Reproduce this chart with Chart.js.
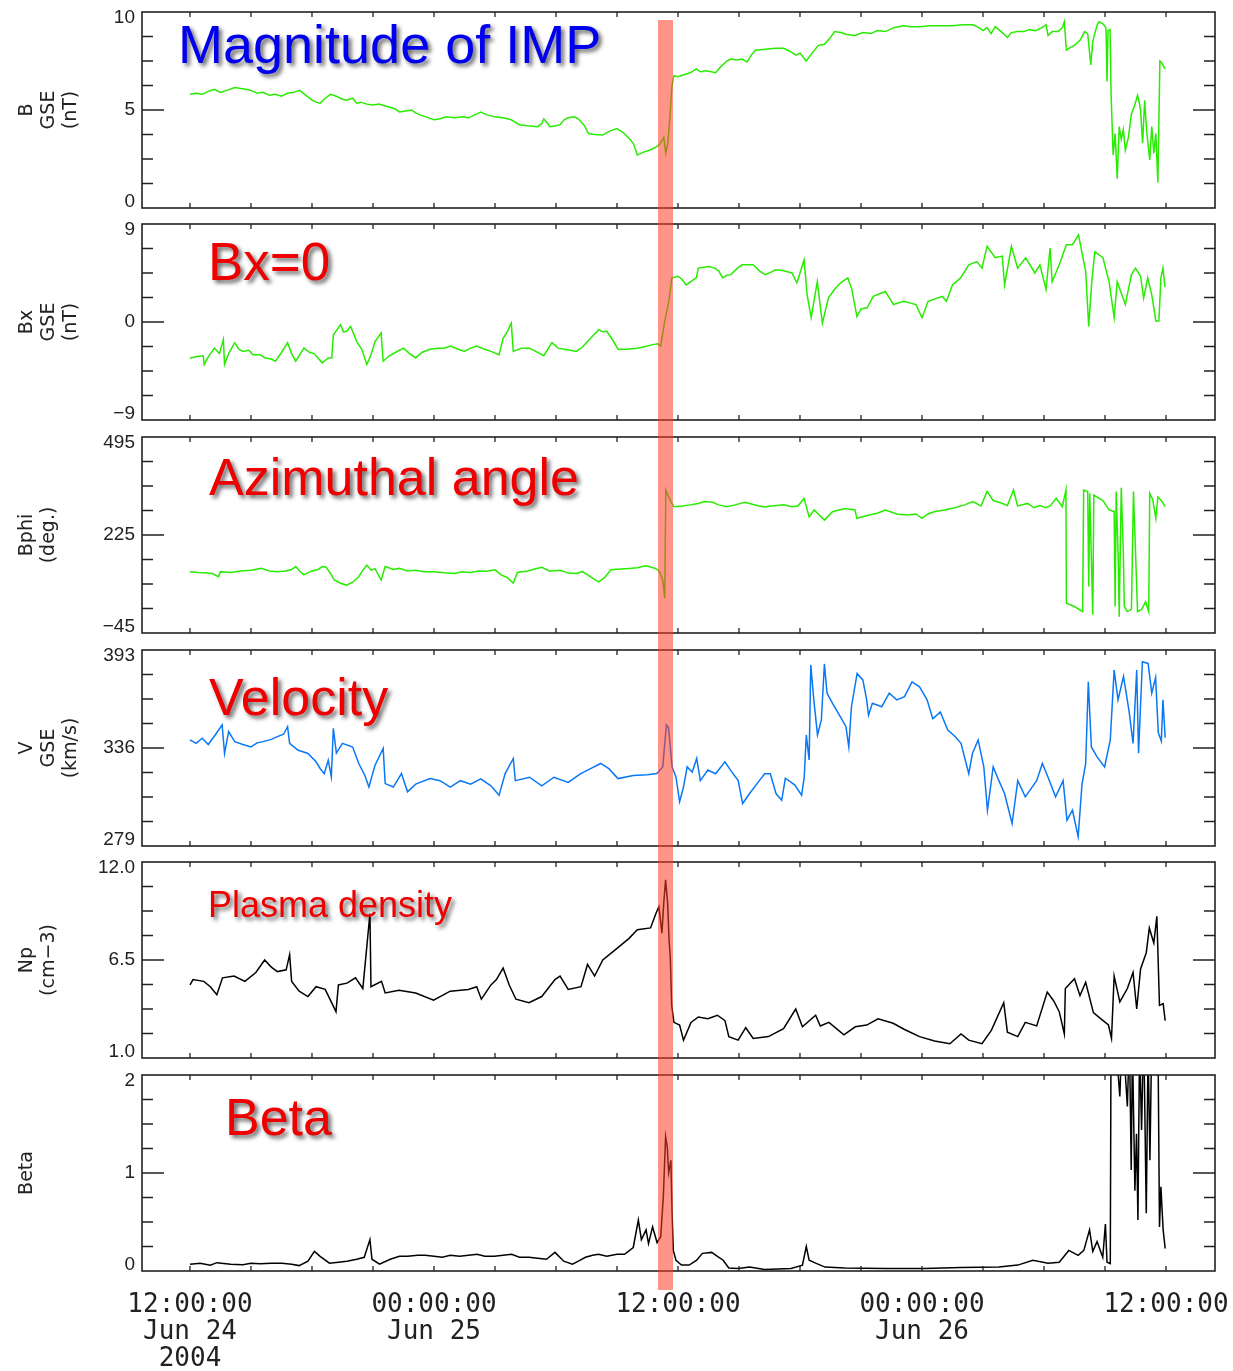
<!DOCTYPE html>
<html>
<head>
<meta charset="utf-8">
<script src="https://cdn.jsdelivr.net/npm/chart.js@4.4.1/dist/chart.umd.min.js"></script>
<style>
    body { margin: 0; background: #fff; }
    #wrap { position: relative; width: 1233px; height: 1371px; overflow: hidden; }
    #wrap canvas { position: absolute; left: 0; }
    #band { position: absolute; top: 20px; height: 1270px; background: rgba(255, 60, 40, 0.55); }
</style>
</head>
<body>
<div id="wrap"><div id="band"></div></div>
<script>
// time axis: hours after 2004-06-24 12:00
const xTickHours = [0, 3, 6, 9, 12, 15, 18, 21, 24, 27, 30, 33, 36, 39, 42, 45, 48];
const xMajorHours = [0, 12, 24, 36, 48];
const xMajorLabels = [['12:00:00', 'Jun 24', '2004'], ['00:00:00', 'Jun 25'], ['12:00:00'], ['00:00:00', 'Jun 26'], ['12:00:00']];
const shockHours = [23.02, 23.76];

// [hour, value] pairs
const bMag = [[0,5.8],[0.3,5.85],[0.6,5.8],[0.9,5.95],[1.2,6.05],[1.5,5.9],[1.8,6.0],[2.2,6.15],[2.5,6.1],[2.8,6.05],[3.0,6.0],[3.3,5.85],[3.6,5.9],[3.9,5.75],[4.2,5.8],[4.5,5.7],[4.8,5.85],[5.1,5.9],[5.4,6.0],[5.7,5.75],[6.0,5.5],[6.2,5.4],[6.4,5.35],[6.6,5.55],[6.9,5.8],[7.2,5.7],[7.5,5.55],[7.7,5.5],[8.0,5.6],[8.2,5.35],[8.4,5.4],[8.7,5.3],[9.0,5.25],[9.3,5.3],[9.6,5.2],[9.8,5.15],[10.1,5.05],[10.3,4.9],[10.6,4.95],[10.9,5.0],[11.1,4.85],[11.3,4.75],[11.6,4.65],[12.0,4.5],[12.3,4.55],[12.6,4.65],[13.0,4.6],[13.4,4.65],[13.7,4.6],[14.0,4.75],[14.3,4.9],[14.6,4.75],[15.0,4.65],[15.4,4.6],[15.8,4.5],[16.2,4.25],[16.6,4.2],[17.1,4.15],[17.3,4.3],[17.4,4.55],[17.6,4.3],[17.7,4.15],[18.0,4.2],[18.2,4.25],[18.4,4.5],[18.6,4.6],[18.9,4.65],[19.1,4.55],[19.4,4.2],[19.6,3.8],[19.9,3.75],[20.3,3.72],[20.5,3.85],[20.7,3.95],[21.0,4.05],[21.3,3.85],[21.6,3.55],[21.8,3.3],[22.0,2.7],[22.3,2.85],[22.6,2.95],[22.9,3.1],[23.1,3.25],[23.3,3.6],[23.4,2.8],[23.5,3.3],[23.6,4.6],[23.7,6.2],[23.8,6.75],[24.0,6.7],[24.3,6.8],[24.6,6.9],[24.9,7.1],[25.1,6.95],[25.4,7.0],[25.85,6.9],[26.1,7.2],[26.4,7.5],[26.6,7.6],[26.9,7.55],[27.15,7.6],[27.4,7.45],[27.6,7.8],[27.8,8.05],[28.3,8.1],[28.8,8.15],[29.2,8.15],[29.5,8.0],[29.8,7.8],[30.0,7.9],[30.3,7.5],[30.6,7.9],[30.9,8.3],[31.2,8.35],[31.5,8.7],[31.7,9.0],[32.0,8.95],[32.3,8.85],[32.7,8.8],[33.1,8.95],[33.5,8.9],[33.8,9.05],[34.2,9.0],[34.6,9.2],[35.1,9.3],[35.5,9.25],[35.9,9.25],[36.4,9.3],[37.0,9.3],[37.5,9.3],[38.0,9.35],[38.5,9.35],[38.8,9.2],[39.0,9.05],[39.2,9.2],[39.4,8.9],[39.6,9.25],[39.9,9.0],[40.2,8.7],[40.4,8.95],[40.7,9.0],[41.0,9.0],[41.3,9.1],[41.6,9.05],[41.9,9.2],[42.1,9.35],[42.2,8.8],[42.4,9.0],[42.7,9.0],[42.9,9.2],[43.0,9.5],[43.1,8.05],[43.3,8.2],[43.5,8.3],[43.8,8.6],[44.0,9.0],[44.15,8.9],[44.3,7.3],[44.4,8.5],[44.6,9.3],[44.7,9.5],[44.9,9.4],[45.05,9.2],[45.1,6.45],[45.15,9.05],[45.25,9.1],[45.3,5.8],[45.4,2.7],[45.5,3.8],[45.6,1.5],[45.7,4.15],[45.8,3.5],[45.9,4.0],[46.0,2.95],[46.15,3.6],[46.3,4.8],[46.45,5.2],[46.6,5.75],[46.7,5.3],[46.75,5.0],[46.85,3.3],[46.95,5.5],[47.05,3.9],[47.2,2.45],[47.3,4.15],[47.4,2.8],[47.5,3.8],[47.6,1.3],[47.7,7.5],[47.8,7.4],[47.95,7.1]];

const bx = [[0,-3.3],[0.3,-3.2],[0.65,-3.1],[0.7,-3.9],[0.9,-3.2],[1.2,-2.4],[1.45,-2.9],[1.64,-1.6],[1.7,-3.9],[1.9,-2.9],[2.2,-1.9],[2.4,-2.5],[2.6,-2.7],[2.9,-2.6],[3.1,-3.0],[3.45,-3.0],[3.7,-3.3],[4.0,-3.4],[4.2,-3.6],[4.5,-2.8],[4.8,-1.9],[5.0,-2.9],[5.2,-3.6],[5.4,-3.0],[5.6,-2.4],[5.9,-2.8],[6.1,-2.9],[6.3,-3.3],[6.5,-3.75],[6.8,-3.3],[6.97,-3.3],[7.05,-1.2],[7.4,-0.25],[7.55,-0.9],[7.7,-0.85],[7.9,-0.4],[8.2,-1.8],[8.45,-2.5],[8.7,-3.9],[8.9,-3.0],[9.1,-1.8],[9.4,-1.0],[9.5,-3.6],[9.8,-3.1],[10.1,-2.8],[10.5,-2.4],[10.8,-2.9],[11.1,-3.3],[11.4,-2.8],[11.8,-2.5],[12.2,-2.4],[12.5,-2.4],[12.8,-2.2],[13.2,-2.5],[13.5,-2.7],[13.8,-2.4],[14.1,-2.2],[14.5,-2.5],[14.8,-2.7],[15.2,-3.0],[15.4,-1.5],[15.6,-0.9],[15.8,-0.1],[15.9,-2.7],[16.3,-2.4],[16.7,-2.4],[17.0,-2.7],[17.4,-3.1],[17.6,-2.5],[17.8,-1.9],[18.1,-2.4],[18.4,-2.5],[18.7,-2.6],[19.0,-2.7],[19.3,-2.3],[19.7,-1.5],[20.1,-0.7],[20.3,-0.9],[20.5,-0.85],[20.8,-1.7],[21.05,-2.5],[21.5,-2.5],[22.0,-2.4],[22.4,-2.25],[22.7,-2.1],[23.0,-2.0],[23.15,-2.2],[23.35,0.1],[23.55,1.9],[23.7,4.05],[24.0,4.2],[24.2,3.9],[24.4,3.4],[24.7,3.8],[24.9,4.05],[25.0,4.95],[25.5,5.1],[25.8,4.95],[26.0,4.7],[26.2,4.05],[26.4,4.3],[26.6,4.35],[26.9,4.9],[27.15,5.25],[27.7,5.25],[28.0,4.7],[28.3,4.35],[28.6,4.6],[28.8,4.8],[29.2,4.7],[29.6,4.5],[29.85,3.6],[30.2,5.7],[30.35,2.5],[30.55,0.4],[30.85,3.7],[31.1,-0.1],[31.4,2.2],[31.7,3.0],[32.0,3.6],[32.35,4.05],[32.55,3.0],[32.8,0.5],[33.0,1.2],[33.3,1.3],[33.6,2.35],[34.2,2.8],[34.6,1.6],[35.1,1.9],[35.7,1.6],[36.0,0.4],[36.3,1.9],[37.0,2.35],[37.2,1.9],[37.5,3.4],[37.9,4.05],[38.3,5.25],[38.7,5.55],[38.95,4.95],[39.2,6.95],[39.6,5.9],[39.95,6.05],[40.06,3.4],[40.4,6.95],[40.7,4.95],[41.1,5.9],[41.55,4.5],[41.8,5.25],[42.1,3.0],[42.3,6.8],[42.4,3.7],[42.75,5.25],[43.1,7.1],[43.4,7.1],[43.7,8.0],[43.9,6.05],[44.05,4.65],[44.2,-0.4],[44.35,3.7],[44.5,6.45],[44.9,5.9],[45.2,3.7],[45.45,0.4],[45.6,3.7],[46.0,1.6],[46.3,4.35],[46.5,4.95],[46.75,4.2],[46.9,2.2],[47.1,4.05],[47.3,2.5],[47.5,0.1],[47.65,0.1],[47.75,4.05],[47.85,4.95],[47.95,3.2]];

const bPhi = [[0,124],[0.4,122],[0.7,121],[1.1,119],[1.4,110],[1.5,124],[2.0,122],[2.5,126],[3.0,128],[3.5,133],[3.9,126],[4.3,124],[4.7,126],[5.0,130],[5.2,138],[5.4,125],[5.6,115],[6.0,126],[6.3,130],[6.5,138],[6.7,136],[6.9,120],[7.1,101],[7.4,92],[7.7,87],[8.0,95],[8.3,110],[8.5,128],[8.7,142],[8.9,128],[9.1,132],[9.4,101],[9.6,138],[10.0,130],[10.3,133],[10.7,126],[11.1,128],[11.5,124],[12.0,124],[12.5,121],[13.0,119],[13.4,124],[13.8,122],[14.2,126],[14.6,125],[15.0,129],[15.3,115],[15.6,108],[15.9,92],[16.1,122],[16.6,126],[17.0,132],[17.3,136],[17.7,125],[18.2,128],[18.6,120],[19.0,119],[19.3,124],[19.6,114],[19.8,106],[20.1,96],[20.4,108],[20.7,129],[21.2,131],[21.6,133],[22.0,135],[22.4,140],[22.7,136],[22.96,131],[23.1,124],[23.25,100],[23.35,51],[23.4,349],[23.5,335],[23.65,317],[23.8,303],[24.2,305],[24.6,308],[25.0,312],[25.3,317],[25.7,315],[26.0,308],[26.4,303],[26.8,308],[27.3,315],[27.7,309],[28.2,302],[28.6,305],[29.2,308],[29.6,303],[29.9,305],[30.2,326],[30.45,275],[30.7,294],[30.95,280],[31.2,266],[31.6,289],[32.2,298],[32.7,294],[32.8,271],[33.4,280],[33.8,285],[34.2,294],[34.8,282],[35.3,280],[35.7,283],[36.0,271],[36.3,283],[36.6,289],[37.1,294],[37.6,300],[38.1,308],[38.5,317],[38.9,305],[39.2,345],[39.5,320],[39.9,313],[40.2,306],[40.5,349],[40.7,305],[41.2,312],[41.5,300],[41.8,306],[42.1,300],[42.3,305],[42.6,326],[42.9,303],[43.08,349],[43.1,37],[43.5,28],[43.9,14],[43.95,349],[44.15,345],[44.2,83],[44.25,340],[44.4,5],[44.45,335],[44.9,320],[45.2,294],[45.45,290],[45.5,28],[45.55,345],[45.65,165],[45.7,0],[45.8,355],[45.9,179],[45.95,28],[46.1,14],[46.3,20],[46.4,345],[46.6,14],[46.8,20],[47.0,41],[47.15,14],[47.2,340],[47.35,322],[47.5,271],[47.6,330],[47.8,318],[47.95,303]];

const vel = [[0,340.7],[0.3,338.7],[0.6,341.7],[0.9,338],[1.3,344.6],[1.58,349.4],[1.7,332.8],[1.9,345.5],[2.2,339.7],[2.6,338],[3.0,336.6],[3.3,339],[3.6,339.7],[4.0,341],[4.3,342.6],[4.6,344],[4.8,348.4],[4.9,338.7],[5.3,334.8],[5.8,332.8],[6.2,328],[6.4,324.1],[6.6,321.1],[6.8,328.9],[6.95,319.2],[7.05,347.4],[7.2,333],[7.5,338.7],[8.0,336.6],[8.3,327],[8.6,320],[8.8,313.3],[9.1,326],[9.5,335.7],[9.6,315.3],[10.0,313.3],[10.4,321.1],[10.7,310.5],[11.1,315],[11.8,318.2],[12.3,317],[12.8,313.3],[13.3,317],[13.8,315],[14.3,318],[14.8,314],[15.2,308.5],[15.5,321.1],[15.9,329.9],[16.0,317],[16.7,319],[17.3,314],[17.9,319],[18.6,316],[19.2,321],[19.7,324],[20.2,327],[20.6,324],[21.05,318.2],[21.8,320],[22.5,320.5],[22.96,321.1],[23.25,325],[23.43,349.4],[23.53,348],[23.62,336.6],[23.71,325],[23.9,319.2],[24.08,304.7],[24.27,313.3],[24.45,325],[24.7,322],[24.92,329.9],[25.1,317],[25.47,323.2],[25.85,321],[26.31,328],[26.59,323],[26.96,317],[27.18,303.7],[27.52,309.5],[27.89,315.3],[28.26,321],[28.54,321],[28.82,309.5],[29.1,305.6],[29.28,318.4],[29.75,314.4],[30.08,308.5],[30.21,319],[30.31,343.6],[30.45,329],[30.53,384.3],[30.68,364],[30.86,343.6],[31.05,352.3],[31.2,384.9],[31.33,367.9],[31.6,362],[31.98,354.2],[32.26,348.4],[32.4,336.6],[32.53,360],[32.81,379.4],[33.09,375.6],[33.28,364],[33.37,355],[33.56,362],[34.02,360],[34.39,367.9],[34.76,364],[35.14,365.9],[35.51,374.5],[35.88,371.6],[36.25,364],[36.53,353],[36.9,356.9],[37.27,346.5],[37.64,342.6],[37.92,338.7],[38.3,321.1],[38.48,332.8],[38.76,340.7],[39.04,325],[39.22,299.8],[39.5,325],[39.78,317],[40.06,309.5],[40.43,292.1],[40.71,317],[41.08,307.6],[41.64,317],[41.92,327],[42.2,319],[42.57,307.6],[42.94,317],[43.13,294],[43.4,299.8],[43.68,284.5],[43.87,315],[44.05,327],[44.18,374.5],[44.33,336.6],[44.61,330.8],[44.98,325],[45.26,340.7],[45.45,381.3],[45.64,364],[45.91,377.6],[46.19,356.9],[46.38,338.7],[46.56,381.3],[46.65,333],[46.84,386.2],[47.12,385.2],[47.3,367.9],[47.49,377],[47.62,345],[47.77,340],[47.85,364],[47.96,342]];

const np = [[0,5.1],[0.15,5.4],[0.68,5.3],[1.0,5.0],[1.32,4.55],[1.6,5.5],[2.17,5.6],[2.7,5.3],[3.24,5.8],[3.67,6.5],[4.0,6.1],[4.3,5.85],[4.73,5.95],[4.9,6.8],[5.0,5.3],[5.37,4.75],[5.8,4.45],[6.2,5.0],[6.65,4.85],[7.18,3.6],[7.3,5.1],[7.72,5.2],[8.14,5.5],[8.5,4.9],[8.85,9.1],[8.9,5.0],[9.42,5.3],[9.6,4.65],[10.28,4.8],[11.1,4.65],[11.98,4.25],[12.8,4.75],[13.69,4.85],[14.1,5.0],[14.33,4.3],[14.8,5.1],[15.07,5.4],[15.4,6.05],[15.7,5.1],[16.03,4.3],[16.67,4.1],[17.3,4.45],[17.95,5.4],[18.2,5.6],[18.6,4.85],[19.23,5.0],[19.55,6.25],[19.9,5.6],[20.3,6.5],[20.94,7.1],[21.58,7.7],[22.0,8.2],[22.65,8.3],[22.91,9.1],[23.06,9.5],[23.21,8.0],[23.3,9.7],[23.39,11.0],[23.49,9.7],[23.56,7.65],[23.62,6.7],[23.69,3.95],[23.8,3.0],[24.08,2.85],[24.27,2.0],[24.64,3.0],[25.0,3.3],[25.47,3.2],[25.94,3.4],[26.31,3.1],[26.5,2.2],[26.96,2.0],[27.33,2.7],[27.7,2.1],[28.45,2.2],[29.19,2.65],[29.79,3.75],[30.12,2.75],[30.77,3.4],[31.0,2.8],[31.42,3.0],[32.16,2.3],[32.72,2.75],[33.28,2.85],[33.84,3.2],[34.58,2.95],[35.14,2.6],[35.88,2.2],[36.62,1.95],[37.37,1.8],[37.92,2.35],[38.3,2.0],[38.95,1.8],[39.41,2.55],[40.02,4.1],[40.2,2.45],[40.71,2.2],[41.08,3.0],[41.64,2.8],[42.16,4.7],[42.48,4.2],[42.75,3.6],[43.0,2.35],[43.05,4.9],[43.5,5.45],[43.77,4.5],[44.05,5.25],[44.43,3.55],[44.8,3.2],[45.17,2.85],[45.32,2.1],[45.45,5.6],[45.73,4.15],[46.1,4.9],[46.38,5.8],[46.56,3.75],[46.75,6.0],[47.03,6.9],[47.18,8.3],[47.4,7.45],[47.55,8.95],[47.68,3.95],[47.86,4.05],[47.96,3.1]];

const beta = [[0,0.07],[0.5,0.08],[1.0,0.06],[1.32,0.085],[2.0,0.07],[2.6,0.065],[3.0,0.08],[3.45,0.075],[4.0,0.08],[4.52,0.08],[5.0,0.07],[5.37,0.055],[5.8,0.1],[6.12,0.2],[6.4,0.15],[6.86,0.08],[7.3,0.09],[7.72,0.1],[8.2,0.12],[8.57,0.14],[8.85,0.32],[8.95,0.12],[9.32,0.07],[9.85,0.12],[10.3,0.15],[10.7,0.15],[11.2,0.16],[11.56,0.16],[12.0,0.15],[12.41,0.14],[12.8,0.16],[13.26,0.15],[13.7,0.16],[14.12,0.17],[14.5,0.15],[14.97,0.15],[15.4,0.16],[15.82,0.17],[16.2,0.14],[16.68,0.14],[17.1,0.13],[17.53,0.12],[17.95,0.19],[18.38,0.1],[18.81,0.07],[19.1,0.1],[19.45,0.14],[19.8,0.16],[20.09,0.17],[20.5,0.15],[21.0,0.17],[21.37,0.17],[21.8,0.24],[22.05,0.52],[22.2,0.32],[22.43,0.42],[22.55,0.28],[22.75,0.45],[22.97,0.29],[23.15,0.35],[23.28,0.76],[23.39,1.37],[23.47,1.27],[23.54,1.0],[23.65,1.13],[23.71,0.59],[23.77,0.21],[23.9,0.11],[24.17,0.06],[24.55,0.06],[24.92,0.11],[25.2,0.18],[25.66,0.19],[25.94,0.15],[26.22,0.11],[26.5,0.03],[26.96,0.025],[27.52,0.04],[28.26,0.015],[29.56,0.025],[30.12,0.06],[30.31,0.25],[30.45,0.11],[30.77,0.08],[31.23,0.04],[32.2,0.03],[34.2,0.025],[36.1,0.025],[37.92,0.035],[39.78,0.04],[40.71,0.06],[41.45,0.11],[42.2,0.08],[42.75,0.09],[43.22,0.21],[43.68,0.16],[43.96,0.21],[44.24,0.42],[44.4,0.2],[44.61,0.3],[44.89,0.14],[45.02,0.48],[45.1,0.09],[45.26,0.075],[45.3,2.6],[45.5,2.4],[45.73,1.78],[45.85,2.5],[46.1,1.68],[46.2,2.4],[46.29,1.03],[46.35,2.3],[46.47,0.82],[46.55,1.4],[46.62,0.52],[46.7,2.3],[46.8,1.44],[46.9,2.5],[47.03,0.59],[47.12,2.3],[47.21,1.13],[47.3,2.4],[47.6,2.5],[47.68,0.45],[47.75,0.86],[47.86,0.42],[47.96,0.23]];

const green = '#27ec00';
const blue = '#0a78f5';
const red = '#ee0000';

const panels = [
    { series: bMag, color: green, min: 0, max: 10, yLabels: ['0', '5', '10'], yTitle: ['B', 'GSE', '(nT)'],
      note: 'Magnitude of IMP', noteColor: '#0000ee', noteSize: 54, noteX: 178, noteBase: 51 },
    { series: bx, color: green, min: -9, max: 9, yLabels: ['\u22129', '0', '9'], yTitle: ['Bx', 'GSE', '(nT)'],
      note: 'Bx=0', noteColor: red, noteSize: 53, noteX: 208, noteBase: 56 },
    { series: bPhi, color: green, min: -45, max: 495, yLabels: ['\u221245', '225', '495'], yTitle: ['Bphi', '(deg.)'],
      note: 'Azimuthal angle', noteColor: red, noteSize: 52, noteX: 209, noteBase: 58 },
    { series: vel, color: blue, min: 279, max: 393, yLabels: ['279', '336', '393'], yTitle: ['V', 'GSE', '(km/s)'],
      note: 'Velocity', noteColor: red, noteSize: 52, noteX: 209, noteBase: 65 },
    { series: np, color: '#000', min: 1, max: 12, yLabels: ['1.0', '6.5', '12.0'], yTitle: ['Np', '(cm\u22123)'],
      note: 'Plasma density', noteColor: red, noteSize: 36, noteX: 208, noteBase: 55 },
    { series: beta, color: '#000', min: 0, max: 2, yLabels: ['0', '1', '2'], yTitle: ['Beta'],
      note: 'Beta', noteColor: red, noteSize: 52, noteX: 225, noteBase: 60 }
];

const plotTops = [12, 224, 437, 650, 862, 1075];
const plotHeight = 196;
const wrap = document.getElementById('wrap');

function makeFrame(p) {
    return {
        id: 'frame',
        afterDatasetsDraw(chart) {
            const { ctx, chartArea: a, scales: { x, y } } = chart;
            ctx.save();
            ctx.strokeStyle = '#222';
            ctx.lineWidth = 1.3;
            ctx.beginPath();
            xTickHours.forEach(h => {
                const px = x.getPixelForValue(h);
                ctx.moveTo(px, a.top); ctx.lineTo(px, a.top + 5);
                ctx.moveTo(px, a.bottom); ctx.lineTo(px, a.bottom - 5);
            });
            for (let k = 1; k < 8; k++) {
                const py = y.getPixelForValue(p.min + (p.max - p.min) * k / 8);
                const len = k === 4 ? 22 : 11;
                ctx.moveTo(a.left, py); ctx.lineTo(a.left + len, py);
                ctx.moveTo(a.right, py); ctx.lineTo(a.right - len, py);
            }
            ctx.stroke();
            ctx.lineWidth = 1.6;
            ctx.strokeRect(a.left, a.top, a.right - a.left, a.bottom - a.top);

            // y tick labels, kept inside the axis range like the original
            ctx.fillStyle = '#222';
            ctx.font = '19px "Liberation Sans"';
            ctx.textAlign = 'right';
            ctx.textBaseline = 'middle';
            const vals = [p.min, (p.min + p.max) / 2, p.max];
            const shift = [-6, 0, 6];
            p.yLabels.forEach((t, k) => ctx.fillText(t, a.left - 7, y.getPixelForValue(vals[k]) + shift[k]));

            // panel caption
            ctx.font = p.noteSize + 'px "Liberation Sans"';
            ctx.textAlign = 'left';
            ctx.textBaseline = 'alphabetic';
            ctx.shadowColor = 'rgba(0, 0, 0, 0.6)';
            ctx.shadowOffsetX = 3;
            ctx.shadowOffsetY = 3;
            ctx.shadowBlur = 4;
            ctx.fillStyle = p.noteColor;
            ctx.fillText(p.note, p.noteX, a.top + p.noteBase);
            ctx.restore();
        }
    };
}

function makePanel(p, i) {
    const last = i === panels.length - 1;
    const top = plotTops[i] - 12;
    const canvas = document.createElement('canvas');
    canvas.width = 1233;
    canvas.height = last ? 1371 - top : plotHeight + 24;
    canvas.style.top = top + 'px';
    wrap.insertBefore(canvas, document.getElementById('band'));

    return new Chart(canvas, {
        type: 'line',
        data: {
            datasets: [{
                data: p.series.map(([h, v]) => ({ x: h, y: v })),
                borderColor: p.color,
                borderWidth: 1.5,
                pointRadius: 0,
                tension: 0
            }]
        },
        options: {
            responsive: false,
            animation: false,
            layout: { autoPadding: false, padding: { left: 0, right: 18, top: 12, bottom: last ? 0 : 12 } },
            plugins: { legend: { display: false }, tooltip: { enabled: false } },
            scales: {
                x: {
                    type: 'linear',
                    min: -2.36,
                    max: 50.41,
                    display: last,
                    grid: { display: false, drawTicks: false },
                    border: { display: false },
                    afterBuildTicks: s => { s.ticks = xTickHours.map(v => ({ value: v })); },
                    afterFit: s => { s.height = last ? 100 : 0; s.paddingLeft = 0; s.paddingRight = 0; },
                    ticks: {
                        autoSkip: false,
                        maxRotation: 0,
                        padding: 21,
                        color: '#222',
                        font: { family: 'DejaVu Sans Mono', size: 26, lineHeight: 1.04 },
                        callback: value => {
                            const k = xMajorHours.indexOf(value);
                            return k < 0 ? '' : xMajorLabels[k];
                        }
                    }
                },
                y: {
                    min: p.min,
                    max: p.max,
                    grid: { display: false },
                    border: { display: false },
                    ticks: { display: false },
                    afterFit: s => { s.width = 142; },
                    title: {
                        display: true,
                        text: p.yTitle,
                        color: '#222',
                        font: { family: 'DejaVu Sans', size: 19, lineHeight: 1.15 },
                        padding: { top: 16, bottom: 0 }
                    }
                }
            }
        },
        plugins: [makeFrame(p)]
    });
}

const charts = panels.map(makePanel);

const xs = charts[0].scales.x;
const band = document.getElementById('band');
const bandLeft = xs.getPixelForValue(shockHours[0]);
band.style.left = bandLeft + 'px';
band.style.width = (xs.getPixelForValue(shockHours[1]) - bandLeft) + 'px';
</script>
</body>
</html>
